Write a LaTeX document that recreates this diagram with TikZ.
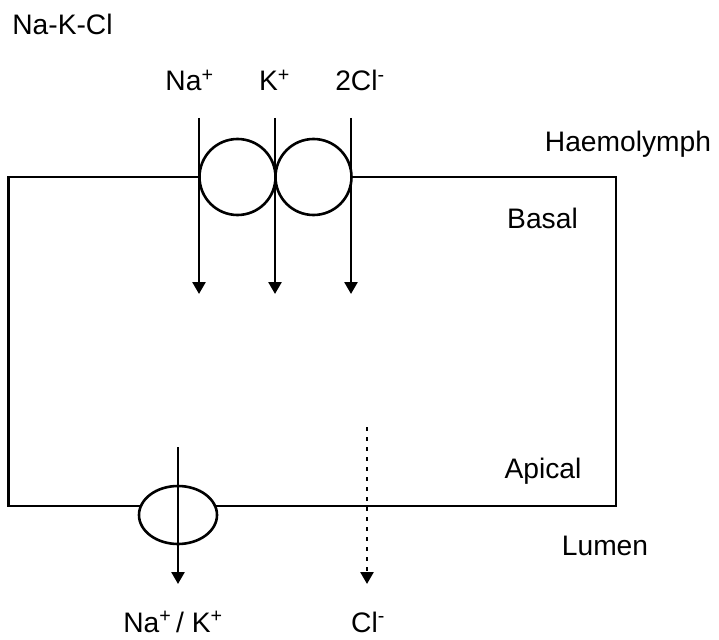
\documentclass[tikz,border=0pt]{standalone}
\usepackage{fontspec}
\setmainfont{Liberation Sans}
\usetikzlibrary{arrows.meta,shapes.geometric}
\begin{document}
\begin{tikzpicture}[x=1pt,y=-1pt,
  lw/.style={line width=2.6pt},
  ionarrow/.style={lw,-{Triangle[width=13pt,length=12pt]}},
  pump/.style={draw,lw,fill=white,circle,minimum size=76pt,inner sep=0pt},
  anti/.style={draw,lw,fill=white,ellipse,minimum width=78pt,minimum height=58pt,inner sep=0pt},
  lbl/.style={font=\fontsize{28.2}{32}\selectfont,inner sep=0pt,anchor=base}]
\useasboundingbox (0,0) rectangle (719,639);
% cell
\coordinate (tl) at (8.5,177);
\coordinate (tr) at (616,177);
\coordinate (bl) at (8.5,506);
\coordinate (br) at (616,506);
\draw[lw] (tl) -- (tr) -- (br) -- (bl) -- cycle;
% cotransporter
\node[pump] (c1) at (237.5,177) {};
\node[pump] (c2) at (313.5,177) {};
\node[anti] (e1) at (178,515) {};
% labels
\node[lbl] (title) at (62.5,35) {Na-K-Cl};
\node[lbl] (na) at (189.5,91) {Na\textsuperscript{+}};
\node[lbl] (k) at (274.5,91) {K\textsuperscript{+}};
\node[lbl] (cl) at (360,91) {2Cl\textsuperscript{-}};
\node[lbl] (haem) at (628,152) {Haemolymph};
\node[lbl] (basal) at (542.5,228) {Basal};
\node[lbl] (apical) at (543,478) {Apical};
\node[lbl] (lumen) at (605,555) {Lumen};
\node[lbl] (nak) at (173,632) {Na\textsuperscript{+}\,/ K\textsuperscript{+}};
\node[lbl] (clb) at (368,632) {Cl\textsuperscript{-}};
% arrows
\coordinate (a1s) at (199,118); \coordinate (a1e) at (199,294);
\coordinate (a2s) at (275,118); \coordinate (a2e) at (275,294);
\coordinate (a3s) at (351,118); \coordinate (a3e) at (351,294);
\coordinate (a4s) at (178,447); \coordinate (a4e) at (178,584);
\coordinate (a5s) at (367,427); \coordinate (a5e) at (367,584);
\draw[ionarrow] (a1s) -- (a1e);
\draw[ionarrow] (a2s) -- (a2e);
\draw[ionarrow] (a3s) -- (a3e);
\draw[ionarrow] (a4s) -- (a4e);
\draw[ionarrow,dash pattern=on 4pt off 6pt] (a5s) -- (a5e);
\end{tikzpicture}
\end{document}
